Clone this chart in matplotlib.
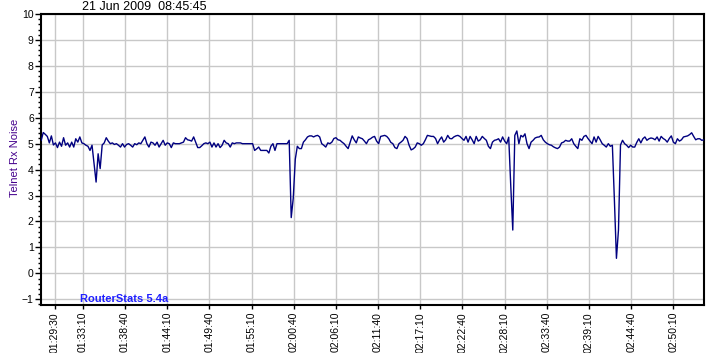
import matplotlib
matplotlib.use("Agg")
import matplotlib.pyplot as plt
from matplotlib.ticker import MultipleLocator, FixedLocator

# ---------------- data ----------------
title_text = "21 Jun 2009  08:45:45"
y_label = "Telnet Rx Noise"
watermark = "RouterStats 5.4a"

start_time = "01:27:45"
sample_interval_s = 15.9
x_range = ["01:27:41", "02:54:12"]

noise = [
    5.13, 5.43, 5.36, 5.28, 5.03, 5.30, 4.95, 5.03, 4.85, 5.06,
    4.90, 5.23, 4.94, 5.03, 4.87, 5.06, 4.87, 5.19, 5.06, 5.26,
    5.03, 5.00, 4.94, 4.90, 4.74, 4.94, 4.23, 3.52, 4.61, 4.04,
    4.95, 5.03, 5.23, 5.10, 5.00, 5.03, 4.97, 5.00, 4.94, 4.87,
    5.00, 4.87, 4.97, 5.00, 4.94, 4.87, 5.00, 4.96, 5.03, 5.00,
    5.13, 5.26, 5.00, 4.87, 5.06, 5.03, 4.94, 5.06, 4.87, 5.00,
    5.13, 4.94, 5.03, 5.00, 4.85, 5.03, 5.00, 5.00, 5.00, 5.03,
    5.06, 5.23, 5.15, 5.13, 5.10, 5.26, 5.06, 4.85, 4.85, 4.92,
    5.00, 5.03, 5.00, 5.06, 4.87, 5.03, 4.87, 5.00, 4.85, 4.94,
    5.13, 5.03, 5.00, 4.87, 5.03, 5.00, 5.03, 5.03, 5.03, 5.00,
    5.00, 5.00, 5.00, 5.00, 5.00, 4.74, 4.80, 4.87, 4.74, 4.74,
    4.74, 4.74, 4.64, 4.90, 5.00, 4.74, 5.00, 5.00, 5.00, 5.00,
    5.00, 5.00, 5.13, 2.15, 2.90, 4.40, 4.90, 4.81, 4.81, 5.06,
    5.15, 5.26, 5.30, 5.30, 5.26, 5.30, 5.32, 5.26, 5.00, 4.94,
    4.87, 5.03, 5.00, 5.06, 5.20, 5.23, 5.15, 5.13, 5.06, 5.00,
    4.90, 4.81, 5.06, 5.30, 5.15, 5.03, 5.26, 5.22, 5.19, 5.10,
    5.00, 5.15, 5.19, 5.25, 5.28, 5.10, 5.00, 5.28, 5.30, 5.32,
    5.28, 5.19, 5.05, 5.00, 4.85, 4.81, 5.00, 5.06, 5.13, 5.28,
    5.20, 4.94, 4.76, 4.80, 4.87, 5.03, 5.00, 4.94, 5.00, 5.15,
    5.32, 5.30, 5.28, 5.28, 5.20, 5.00, 5.15, 5.26, 5.06, 5.15,
    5.32, 5.20, 5.19, 5.26, 5.30, 5.32, 5.28, 5.20, 5.13, 5.28,
    5.06, 5.28, 5.15, 5.00, 5.28, 5.10, 5.15, 5.28, 5.20, 5.13,
    4.90, 4.81, 5.06, 5.13, 5.15, 5.19, 5.06, 5.26, 5.10, 5.00,
    5.25, 3.39, 1.67, 5.32, 5.49, 5.00, 5.32, 5.26, 5.38, 5.00,
    4.81, 5.06, 5.13, 5.22, 5.25, 5.26, 5.32, 5.15, 5.06, 5.00,
    4.96, 4.94, 4.88, 4.84, 4.81, 4.87, 5.03, 5.06, 5.13, 5.10,
    5.10, 5.19, 5.00, 4.90, 4.81, 5.19, 5.13, 5.28, 5.32, 5.20,
    5.10, 5.00, 5.26, 5.06, 5.28, 5.15, 5.00, 4.94, 4.87, 5.00,
    4.90, 4.94, 2.82, 0.58, 1.67, 4.95, 5.13, 5.00, 4.94, 4.85,
    4.94, 4.87, 4.87, 5.05, 5.19, 5.03, 5.19, 5.26, 5.13, 5.19,
    5.22, 5.20, 5.15, 5.26, 5.10, 5.28, 5.20, 5.15, 5.06, 5.20,
    5.30, 5.06, 5.00, 5.19, 5.10, 5.15, 5.26, 5.28, 5.30, 5.35,
    5.42, 5.28, 5.15, 5.19, 5.19, 5.13, 5.15,
]

tick_labels = [
    "01:29:30", "01:33:10", "01:38:40", "01:44:10", "01:49:40", "01:55:10",
    "02:00:40", "02:06:10", "02:11:40", "02:17:10", "02:22:40", "02:28:10",
    "02:33:40", "02:39:10", "02:44:40", "02:50:10",
]
y_range = [-1.22, 10.0]


def to_sec(s):
    h, m, sec = map(int, s.split(":"))
    return h * 3600 + m * 60 + sec


t0 = to_sec(start_time)
x = [t0 + i * sample_interval_s for i in range(len(noise))]
tick_pos = [to_sec(s) for s in tick_labels]

# ---------------- figure ----------------
plt.rcParams["font.family"] = ["Liberation Sans", "DejaVu Sans"]
W, H = 712, 353
fig = plt.figure(figsize=(W / 100, H / 100), dpi=100)
fig.patch.set_facecolor("white")
L, R, T, B = 40.7, 704.3, 14.0, 305.0
ax = fig.add_axes([L / W, 1 - B / H, (R - L) / W, (B - T) / H])

ax.plot(x, noise, color="#000080", lw=1.0, zorder=3)

ax.set_xlim(to_sec(x_range[0]), to_sec(x_range[1]))
ax.set_ylim(*y_range)

ax.xaxis.set_major_locator(FixedLocator(tick_pos))
ax.set_xticklabels(tick_labels, rotation=90, fontsize=7.5)
ax.yaxis.set_major_locator(MultipleLocator(1))
ax.yaxis.set_minor_locator(MultipleLocator(0.2))
ax.tick_params(axis="y", which="major", length=4, width=1, pad=1, labelsize=7.5)
ax.tick_params(axis="y", which="minor", length=2, width=1)
ax.tick_params(axis="x", which="major", length=3, width=1, pad=2)

ax.grid(True, which="major", color="#c8c8c8", lw=1, zorder=0)
for sp in ax.spines.values():
    sp.set_color("black")
    sp.set_linewidth(1.5)

fig.text(144 / W, 1 - 6.5 / H, title_text, ha="center", va="center", fontsize=9)
fig.text(15 / W, 1 - 158 / H, y_label, rotation=90, ha="center", va="center",
         fontsize=8, color="#44008c")
fig.text(80 / W, 1 - 299 / H, watermark, ha="left", va="center",
         fontsize=8, fontweight="bold", color="#2020ff", zorder=5)

fig.savefig("out.png", dpi=100)
